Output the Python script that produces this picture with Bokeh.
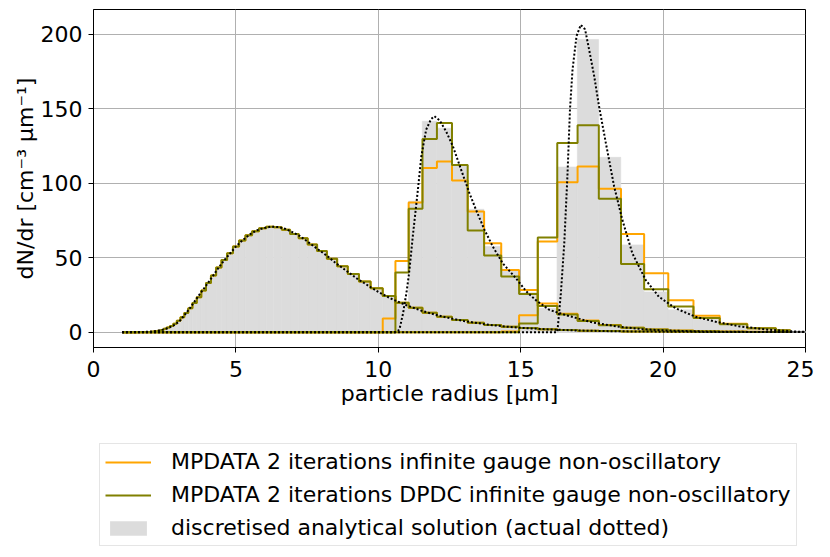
from bokeh.plotting import figure
from bokeh.models import Range1d, Legend, LegendItem, FixedTicker
from bokeh.layouts import column
from bokeh.embed import file_html
from bokeh.resources import INLINE

# bin edges of the radius grid (micrometres)
edges = [1.000, 1.044, 1.090, 1.137, 1.187, 1.239, 1.294, 1.350, 1.410, 1.471,
         1.536, 1.603, 1.674, 1.747, 1.824, 1.904, 1.987, 2.074, 2.165, 2.260,
         2.359, 2.463, 2.571, 2.684, 2.801, 2.924, 3.052, 3.186, 3.326, 3.472,
         3.624, 3.783, 3.949, 4.122, 4.303, 4.492, 4.688, 4.894, 5.109, 5.333,
         5.566, 5.811, 6.065, 6.331, 6.609, 6.899, 7.201, 7.517, 7.847, 8.191,
         8.550, 8.925, 9.316, 9.725, 10.151, 10.597, 11.061, 11.546, 12.053, 12.581,
         13.133, 13.709, 14.309, 14.937, 15.592, 16.276, 16.990, 17.734, 18.513, 19.325,
         20.172, 21.057, 21.979, 22.943, 23.950, 25.000]

# t0 (initial spectrum) - all schemes coincide
orange_t0 = [0, 0, 0, 0, 0, 0, 0, 0, 0, 0,
             0.01, 0.02, 0.03, 0.05, 0.09, 0.15, 0.25, 0.4, 0.65, 1.0,
             1.5, 2.2, 3.1, 4.2, 5.7, 7.6, 10, 12.8, 16, 19.5,
             23.5, 28, 33, 38, 43.5, 48.5, 53, 57.5, 61.5, 65,
             67.8, 69.7, 70.8, 70.5, 68.8, 66, 63, 58.8, 54.5, 49.3,
             44.3, 39, 34, 29.4, 24.2, 19.8, 16.4, 13, 10.3, 8.1,
             6.3, 4.8, 3.6, 2.7, 1.9, 1.4, 1.0, 0.7, 0.5, 0.35,
             0.25, 0.17, 0.12, 0.08, 0.05]
olive_t0 = [0, 0, 0, 0, 0, 0, 0, 0, 0, 0,
            0.01, 0.02, 0.03, 0.05, 0.09, 0.15, 0.25, 0.4, 0.65, 1.0,
            1.5, 2.2, 3.1, 4.2, 5.7, 7.6, 10, 12.8, 16, 19.5,
            23.5, 28, 33, 38, 43.5, 48.5, 53, 57.5, 61.5, 65,
            67.8, 69.7, 70.8, 70.5, 68.8, 66, 63, 58.8, 54.5, 49.3,
            44.3, 39, 34, 29.4, 24.2, 19.8, 16.4, 13, 10.3, 8.1,
            6.3, 4.8, 3.6, 2.7, 1.9, 1.4, 1.0, 0.7, 0.5, 0.35,
            0.25, 0.17, 0.12, 0.08, 0.05]
gray_t0 = [0, 0, 0, 0, 0, 0, 0, 0, 0, 0,
           0.01, 0.02, 0.03, 0.05, 0.09, 0.15, 0.25, 0.4, 0.65, 1.0,
           1.5, 2.2, 3.1, 4.2, 5.7, 7.6, 10, 12.8, 16, 19.5,
           23.5, 28, 33, 38, 43.5, 48.5, 53, 57.5, 61.5, 65,
           67.8, 69.7, 70.8, 70.5, 68.8, 66, 63, 58.8, 54.5, 49.3,
           44.3, 39, 34, 29.4, 24.2, 19.8, 16.4, 13, 10.3, 8.1,
           6.3, 4.8, 3.6, 2.7, 1.9, 1.4, 1.0, 0.7, 0.5, 0.35,
           0.25, 0.17, 0.12, 0.08, 0.05]

# t1 (peak near 12 um), bins 54..74; earlier bins are zero
orange_t1_tail = [9.2, 47.8, 87.1, 110.2, 114.7, 101.9, 81, 59.7, 41.8, 28.3,
                  19.3, 12.3, 7.8, 4.8, 3.0, 1.8, 1.1, 0.6, 0.35, 0.2, 0.1]
olive_t1_tail = [0, 40, 82.8, 129.7, 140.5, 112.2, 68.2, 51.4, 37.3, 25.6,
                 17.5, 11.8, 7.5, 4.7, 2.9, 1.7, 1.0, 0.55, 0.3, 0.15, 0.08]
gray_t1_tail = [0, 9, 88, 141.6, 137, 112, 82.5, 57.5, 41, 26.5,
                16, 11, 7.3, 4.5, 2.6, 1.4, 0.8, 0.45, 0.25, 0.12, 0.06]

# t2 (peak near 17 um), bins 62..74; earlier bins are zero
orange_t2_tail = [0.5, 11.4, 60.8, 100.6, 111.3, 96.3, 66, 39.5, 21.5, 11, 5.6, 2.6, 1.2]
olive_t2_tail = [0, 5.8, 63.5, 127, 138.9, 89.6, 45.8, 28.8, 17.2, 9.5, 5.3, 2.6, 1.3]
gray_t2_tail = [0, 0, 0, 110.9, 196.6, 117.4, 58.6, 27, 15, 8.5, 4.7, 2.1, 0.7]

# actual analytical solutions (dotted)
an_t0_r = [1.0, 1.5, 1.8, 2.0, 2.2, 2.4, 2.6, 2.8, 3.0, 3.2, 3.4, 3.6, 3.8, 4.0, 4.2,
           4.4, 4.6, 4.8, 5.0, 5.25, 5.5, 5.75, 6.0, 6.25, 6.5, 6.75, 7.0, 7.25, 7.5,
           7.75, 8.0, 8.25, 8.5, 8.75, 9.0, 9.25, 9.5, 9.75, 10.0, 10.5, 11.0, 11.5,
           12.0, 12.5, 13.0, 13.5, 14.0, 14.5, 15.0, 16.0, 17.0, 18.0, 19.0, 20.0,
           21.0, 22.0, 23.0, 24.0, 25.0]
an_t0_v = [0, 0.02, 0.15, 0.35, 0.8, 1.5, 2.6, 4.3, 7, 11.5, 16.5, 22, 27.3, 32.5, 38,
           43.5, 48.5, 53, 57.5, 62, 65.8, 68.5, 70, 70.9, 70.6, 69.3, 67, 64.5, 61,
           57.5, 54, 50.5, 46.5, 43, 39.5, 36, 33, 30, 27, 22, 18, 14.5,
           11.7, 9.4, 7.5, 6, 4.7, 3.7, 2.9, 1.8, 1.1, 0.7, 0.45, 0.3,
           0.2, 0.12, 0.08, 0.05, 0.03]
an_t1_r = [1.0, 10.6, 10.7, 10.75, 10.87, 11.0, 11.08, 11.22, 11.39, 11.51, 11.68, 11.85,
           11.97, 12.15, 12.38, 12.62, 12.91, 13.2, 13.43, 13.73, 14.02, 14.37, 14.84,
           15.19, 15.53, 15.77, 16.0, 16.59, 17.52, 18.45, 19.27, 20.0, 21.0, 22.0,
           23.0, 24.0, 25.0]
an_t1_v = [0, 0, 1, 2.5, 12.6, 28, 39.5, 66, 95.6, 118, 136, 143,
           145, 142.3, 134.9, 124.8, 109, 93.4, 82.2, 68.7, 57.5, 46.2, 36,
           27.5, 21.5, 18.2, 15, 11.4, 6.5, 3.6, 2, 1.2, 0.6, 0.3,
           0.15, 0.08, 0.04]
an_t2_r = [1.0, 16.25, 16.29, 16.41, 16.53, 16.64, 16.73, 16.82, 16.96, 17.11, 17.26,
           17.40, 17.58, 17.75, 17.99, 18.28, 18.57, 18.92, 19.39, 19.85, 20.44,
           21.14, 21.84, 22.65, 23.59, 24.75, 25.0]
an_t2_v = [0, 0, 0.5, 26, 59.7, 104.6, 149.5, 176.4, 198.9, 206.4, 203.4,
           190, 172, 151.7, 127, 97.9, 75.4, 53, 35, 23.8, 16,
           10.3, 7, 4, 1.8, 0.3, 0.2]

legend_labels = ["MPDATA 2 iterations infinite gauge non-oscillatory",
                 "MPDATA 2 iterations DPDC infinite gauge non-oscillatory",
                 "discretised analytical solution (actual dotted)"]

n_bins = len(edges) - 1
left = edges[:-1]
right = edges[1:]
centers = [(a + b) / 2 for a, b in zip(left, right)]


def full(tail):
    return [0.0] * (n_bins - len(tail)) + list(tail)


orange_t1, olive_t1, gray_t1 = full(orange_t1_tail), full(olive_t1_tail), full(gray_t1_tail)
orange_t2, olive_t2, gray_t2 = full(orange_t2_tail), full(olive_t2_tail), full(gray_t2_tail)

FONT = "DejaVu Sans"
FS = "22px"
GRAY = "#dcdcdc"
p = figure(width=814, height=440,
           x_range=Range1d(0, 25), y_range=Range1d(-10.32, 216.72),
           output_backend="svg", toolbar_location=None,
           min_border_left=93, min_border_right=9, min_border_top=9,
           min_border_bottom=93)
p.background_fill_color = "white"
p.border_fill_color = "white"
p.outline_line_color = "black"
p.outline_line_width = 1

for vals in (gray_t0, gray_t1, gray_t2):
    p.quad(left=left, right=right, bottom=0, top=vals,
           fill_color=GRAY, line_color=GRAY, line_width=0.6)

for vals in (orange_t0, orange_t1, orange_t2):
    p.step(x=centers, y=vals, mode="center", line_color="orange", line_width=2)

for vals in (olive_t0, olive_t1, olive_t2):
    p.step(x=centers, y=vals, mode="center", line_color="olive", line_width=2)

for rr, vv in ((an_t0_r, an_t0_v), (an_t1_r, an_t1_v), (an_t2_r, an_t2_v)):
    p.line(x=rr, y=vv, line_color="black", line_width=2, line_dash="2 2")

p.xaxis.ticker = FixedTicker(ticks=[0, 5, 10, 15, 20, 25])
p.yaxis.ticker = FixedTicker(ticks=[0, 50, 100, 150, 200])
p.xaxis.axis_label = "particle radius [μm]"
p.yaxis.axis_label = "dN/dr [cm⁻³ μm⁻¹]"
for ax in (p.xaxis[0], p.yaxis[0]):
    ax.axis_label_text_font = FONT
    ax.axis_label_text_font_size = FS
    ax.axis_label_text_font_style = "normal"
    ax.axis_label_text_color = "black"
    ax.major_label_text_font = FONT
    ax.major_label_text_font_size = FS
    ax.major_label_text_color = "black"
    ax.axis_line_color = "black"
    ax.major_tick_line_color = "black"
    ax.major_tick_out = 5
    ax.major_tick_in = 0
    ax.minor_tick_line_color = None
p.xaxis.major_label_standoff = 8
p.yaxis.major_label_standoff = 6
p.xaxis.axis_label_standoff = 1
p.yaxis.axis_label_standoff = 0

p.grid.grid_line_color = "#b0b0b0"
p.grid.grid_line_width = 1

# legend panel below the plot (its renderers lie outside its empty ranges)
q = figure(width=814, height=110, x_range=Range1d(100, 101), y_range=Range1d(500, 501),
           output_backend="svg", toolbar_location=None,
           x_axis_location=None, y_axis_location=None, min_border=0)
q.grid.visible = False
q.outline_line_color = None
q.background_fill_color = "white"
q.border_fill_color = "white"
lr_orange = q.step(x=centers, y=orange_t0, mode="center", line_color="orange", line_width=2)
lr_olive = q.step(x=centers, y=olive_t0, mode="center", line_color="olive", line_width=2)
lr_gray = q.quad(left=left, right=right, bottom=0, top=gray_t0, fill_color=GRAY, line_color=None)

legend = Legend(items=[
    LegendItem(label=legend_labels[0], renderers=[lr_orange]),
    LegendItem(label=legend_labels[1], renderers=[lr_olive]),
    LegendItem(label=legend_labels[2], renderers=[lr_gray]),
], location=(6, 4))
legend.label_text_font = FONT
legend.label_text_font_size = FS
legend.label_text_color = "black"
legend.glyph_width = 46
legend.glyph_height = 18
legend.label_height = 24
legend.label_standoff = 20
legend.spacing = 8
legend.padding = 5
legend.margin = 0
legend.border_line_color = "#cccccc"
legend.border_line_width = 1
legend.background_fill_alpha = 0.8
q.add_layout(legend, "center")

open("out.html", "w").write(file_html(column(p, q), INLINE))
